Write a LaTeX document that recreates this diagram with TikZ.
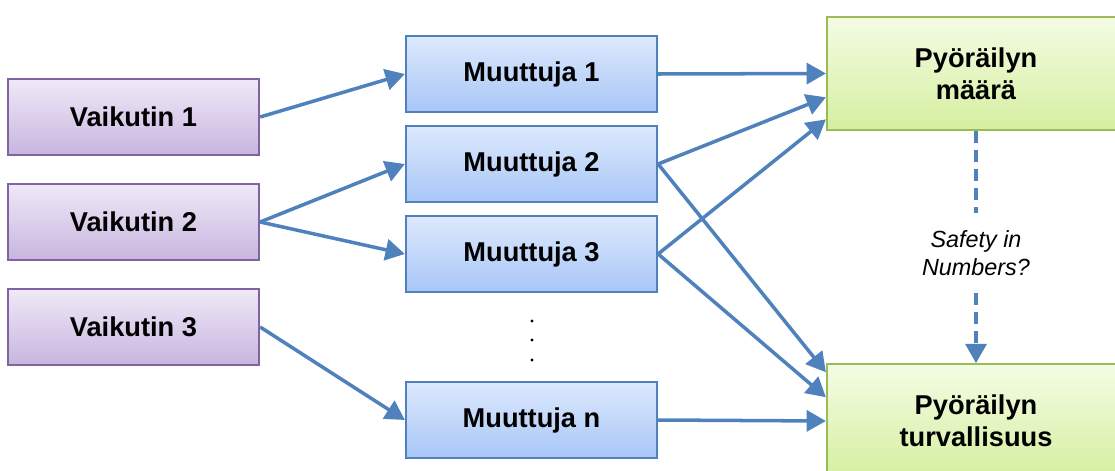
\documentclass[tikz,border=0pt]{standalone}
\usepackage{fontspec}
\setsansfont{Liberation Sans}
\usetikzlibrary{arrows.meta}
\definecolor{vaikEdge}{HTML}{8064A2}
\definecolor{vaikTop}{HTML}{EFE9F7}
\definecolor{vaikBot}{HTML}{C8B5DF}
\definecolor{muutEdge}{HTML}{4F81BD}
\definecolor{muutTop}{HTML}{DDE9FD}
\definecolor{muutBot}{HTML}{A8C6F7}
\definecolor{tulosEdge}{HTML}{9BBB59}
\definecolor{tulosTop}{HTML}{F4FCE4}
\definecolor{tulosBot}{HTML}{D5EFA0}
\definecolor{nuoliC}{HTML}{4F81BD}
\begin{document}
\begin{tikzpicture}[x=0.02cm,y=-0.02cm,box/.style={shape=rectangle,line width=1.3pt,minimum width=5.02cm,minimum height=1.52cm,font=\sffamily\bfseries\fontsize{15.5}{18.1}\selectfont},vaik/.style={box,draw=vaikEdge,top color=vaikTop,bottom color=vaikBot},muut/.style={box,draw=muutEdge,top color=muutTop,bottom color=muutBot},tulos/.style={box,draw=tulosEdge,top color=tulosTop,bottom color=tulosBot,minimum width=5.96cm,minimum height=2.27cm,align=center},nuoli/.style={draw=nuoliC,line width=2pt,-{Triangle[length=11pt,width=12pt]}}]
\def\xv{133.5};
\def\xm{531.5};
\def\xt{976};

\clip (0,0) rectangle (1115,470);

\node[vaik] (V1) at (\xv,117) {Vaikutin 1};
\node[vaik] (V2) at (\xv,222) {Vaikutin 2};
\node[vaik] (V3) at (\xv,327) {Vaikutin 3};

\node[muut] (M1) at (\xm,74) {Muuttuja 1};
\node[muut] (M2) at (\xm,164) {Muuttuja 2};
\node[muut] (M3) at (\xm,254) {Muuttuja 3};
\node[muut] (Mn) at (\xm,420) {Muuttuja n};
\foreach \y in {321,340,360}
  \fill (532,\y) circle (0.95pt);

\node[tulos] (maara) at (\xt,73.5) {Pyöräilyn\\määrä};
\node[tulos] (turva) at (\xt,421) {Pyöräilyn\\turvallisuus};

\draw[nuoli] (V1.east) -- (M1.west);
\draw[nuoli] (V2.east) -- (M2.west);
\draw[nuoli] (V2.east) -- (M3.west);
\draw[nuoli] (V3.east) -- (Mn.west);

\draw[nuoli] (M1.east) -- (maara.west);
\draw[nuoli] (M2.east) -- (maara.189);
\draw[nuoli] (M3.east) -- (maara.197);
\draw[nuoli] (M2.east) -- (turva.162);
\draw[nuoli] (M3.east) -- (turva.171);
\draw[nuoli] (Mn.east) -- (turva.west);

\node[font=\sffamily\itshape\fontsize{13.3}{15.9}\selectfont,align=center,minimum height=1.6cm,inner sep=0pt] (sin) at (\xt,253) {Safety in\\Numbers?};
\draw[draw=nuoliC,line width=1.9pt,dash pattern=on 6.8pt off 4pt] (maara.south) -- (sin.north);
\draw[nuoli,line width=1.9pt,dash pattern=on 6.8pt off 4pt] (sin.south) -- (turva.north);
\end{tikzpicture}
\end{document}
